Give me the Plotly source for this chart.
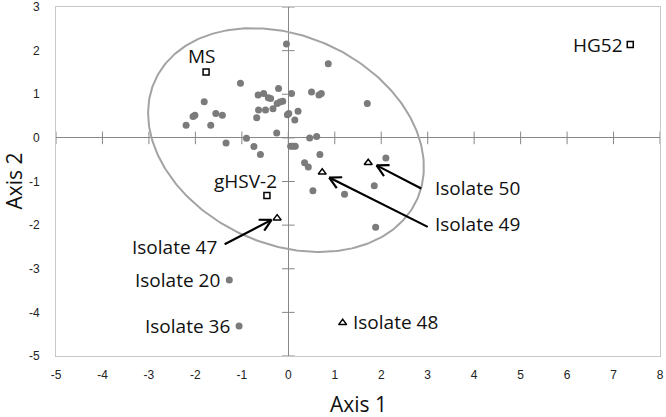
import numpy as np
import plotly.graph_objects as go

# ---- data ----
iso_x = [-0.04, 0.86, -1.03, -1.81, -0.65, -0.53, -0.21, 0.07, -0.43, -0.38,
         0.50, 0.66, 0.71, 1.70, -0.18, -0.12, -0.24, -0.33, -0.64, -0.49,
         -0.02, 0.01, 0.21, 0.14, -0.68, -2.05, -2.01, -1.56, -1.42, -2.20,
         -1.67, -0.25, -1.34, -0.90, -0.74, -0.60, 0.46, 0.61, 0.05, 0.10,
         0.15, 0.68, 0.35, 0.43, 0.53, 1.21, 2.10, 1.85, 1.88, -1.27, -1.06]
iso_y = [2.15, 1.70, 1.25, 0.83, 0.98, 1.02, 1.13, 1.02, 0.92, 0.90,
         1.05, 0.98, 1.02, 0.79, 0.82, 0.84, 0.79, 0.67, 0.64, 0.64,
         0.53, 0.56, 0.61, 0.41, 0.46, 0.49, 0.52, 0.56, 0.52, 0.29,
         0.29, 0.11, -0.12, -0.01, -0.20, -0.38, 0.00, 0.03, -0.19, -0.19,
         -0.19, -0.38, -0.57, -0.67, -1.21, -1.29, -0.46, -1.10, -2.05, -3.26, -4.31]

tri_names = ["Isolate 47", "Isolate 48", "Isolate 49", "Isolate 50"]
tri_x = [-0.24, 1.17, 0.73, 1.72]
tri_y = [-1.84, -4.24, -0.79, -0.57]

ref_names = ["MS", "gHSV-2", "HG52"]
ref_x = [-1.77, -0.46, 7.36]
ref_y = [1.51, -1.32, 2.14]

x_ticks = list(range(-5, 9))
y_ticks = list(range(-5, 4))
x_tick_labels = [str(v) for v in x_ticks]
y_tick_labels = [str(v) for v in y_ticks]

# ellipse (rotation applied in screen-proportional space)
ell_cx, ell_cy = -0.05, -0.05
ell_a_px, ell_b_px, ell_theta_deg = 144, 104, 24.4
px_per_x, px_per_y = 46.5, 43.6

t = np.linspace(0, 2 * np.pi, 300)
th = np.deg2rad(ell_theta_deg)
ex = ell_cx + (ell_a_px * np.cos(t) * np.cos(th) - ell_b_px * np.sin(t) * np.sin(th)) / px_per_x
ey = ell_cy - (ell_a_px * np.cos(t) * np.sin(th) + ell_b_px * np.sin(t) * np.cos(th)) / px_per_y

AXC = "#878787"
fig = go.Figure()

fig.add_trace(go.Scatter(x=x_ticks, y=[0] * len(x_ticks), mode="markers",
                         marker=dict(symbol="line-ns", size=9, line=dict(color=AXC, width=1)),
                         hoverinfo="skip", showlegend=False))
fig.add_trace(go.Scatter(x=[0] * len(y_ticks), y=y_ticks, mode="markers",
                         marker=dict(symbol="line-ew", size=9, line=dict(color=AXC, width=1)),
                         hoverinfo="skip", showlegend=False))

fig.add_trace(go.Scatter(x=ex, y=ey, mode="lines", line=dict(color="#a3a3a3", width=2),
                         hoverinfo="skip", showlegend=False))

fig.add_trace(go.Scatter(x=iso_x, y=iso_y, mode="markers",
                         marker=dict(symbol="circle", size=7, color="#7b7b7b"),
                         showlegend=False))
fig.add_trace(go.Scatter(x=tri_x, y=tri_y, mode="markers",
                         marker=dict(symbol="triangle-up-open", size=7, color="black",
                                     line=dict(width=1.5)),
                         showlegend=False))
fig.add_trace(go.Scatter(x=ref_x, y=ref_y, mode="markers",
                         marker=dict(symbol="square-open", size=6, color="black",
                                     line=dict(width=1.5)),
                         showlegend=False))

# arrows with open V heads: (head_x, head_y, tail_x, tail_y)
arrows = [(-0.36, -1.88, -1.37, -2.44),
          (1.90, -0.63, 2.86, -1.16),
          (0.88, -0.91, 3.00, -2.04)]
barb_px, barb_deg = 13, 28
ax_x, ax_y = [], []
for hx, hy, tx, ty in arrows:
    dxp = (tx - hx) * px_per_x
    dyp = (ty - hy) * px_per_y
    ang = np.arctan2(dyp, dxp)
    ax_x += [tx, hx, None]
    ax_y += [ty, hy, None]
    for s in (-1, 1):
        a2 = ang + s * np.deg2rad(barb_deg)
        ax_x += [hx + barb_px * np.cos(a2) / px_per_x, hx, None]
        ax_y += [hy + barb_px * np.sin(a2) / px_per_y, hy, None]
fig.add_trace(go.Scatter(x=ax_x, y=ax_y, mode="lines", line=dict(color="black", width=2.2),
                         hoverinfo="skip", showlegend=False))

LF = dict(family="Open Sans", size=19, color="#111111")
labels = [
    ("MS", -1.86, 1.87), ("HG52", 6.67, 2.14), ("gHSV-2", -0.92, -0.98),
    ("Isolate 47", -2.46, -2.51), ("Isolate 20", -2.39, -3.26),
    ("Isolate 36", -2.17, -4.31), ("Isolate 48", 2.31, -4.22),
    ("Isolate 50", 4.07, -1.14), ("Isolate 49", 4.08, -1.97),
]
ann = [dict(text=s, x=x, y=y, xref="x", yref="y", showarrow=False, font=LF,
            xanchor="center", yanchor="middle") for s, x, y in labels]

TTF = dict(family="Open Sans", size=21, color="#111111")
ann.append(dict(text="Axis 1", x=0.5, y=0, xref="paper", yref="paper", yshift=-48,
                showarrow=False, font=TTF, xanchor="center", yanchor="middle"))
ann.append(dict(text="Axis 2", x=0, y=0.5, xref="paper", yref="paper", xshift=-43,
                showarrow=False, font=TTF, textangle=-90, xanchor="center", yanchor="middle"))

TF = dict(family="Liberation Sans", size=12, color="#222222")
fig.update_layout(
    width=666, height=417,
    margin=dict(l=56, r=6, t=7, b=61),
    paper_bgcolor="white", plot_bgcolor="white",
    annotations=ann,
    xaxis=dict(range=[-5, 8], tickvals=x_ticks, ticktext=x_tick_labels, ticks="outside",
               ticklen=8, tickcolor="rgba(0,0,0,0)", tickfont=TF, showgrid=False,
               zeroline=True, zerolinecolor=AXC, zerolinewidth=1, automargin=False,
               showline=True, mirror=True, linecolor="#c8c8c8", linewidth=1),
    yaxis=dict(range=[-5, 3], tickvals=y_ticks, ticktext=y_tick_labels, ticks="outside",
               ticklen=13, tickcolor="rgba(0,0,0,0)", tickfont=TF, showgrid=False,
               zeroline=True, zerolinecolor=AXC, zerolinewidth=1, automargin=False,
               showline=True, mirror=True, linecolor="#c8c8c8", linewidth=1),
)

fig.write_html("out.html", post_script="document.body.style.margin='0';",
               config={"displayModeBar": False})
